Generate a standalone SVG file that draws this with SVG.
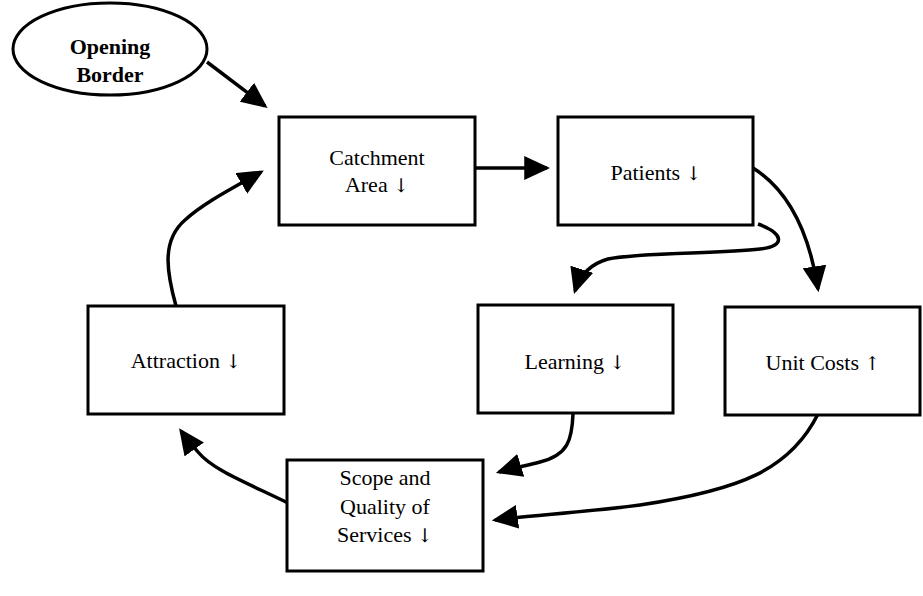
<svg xmlns="http://www.w3.org/2000/svg" width="923" height="596" viewBox="0 0 923 596">
<style>
.box{fill:#fff;stroke:#000;stroke-width:3}
.lbl{font-family:"Liberation Serif","Times New Roman",serif;font-size:22px;fill:#000;text-anchor:middle}
.bold{font-weight:bold}
.ar{font-family:"DejaVu Serif","DejaVu Sans",serif;font-size:19px;fill:#000}
.conn{fill:none;stroke:#000;stroke-width:3.5}
</style>
<defs>
<marker id="ah" markerUnits="userSpaceOnUse" markerWidth="26" markerHeight="24" viewBox="0 0 24 22" refX="21" refY="11" orient="auto">
<path d="M0,0 L24,11 L0,22 z" fill="#000"/>
</marker>
</defs>
<rect width="923" height="596" fill="#fff"/>
<g id="connectors">
<path class="conn" marker-end="url(#ah)" d="M207,62 L265,106"/>
<path class="conn" marker-end="url(#ah)" d="M476,168 L547,168"/>
<path class="conn" marker-end="url(#ah)" d="M176,306 C166,270 162,240 185,220 C205,202 235,187 261,172"/>
<path class="conn" marker-end="url(#ah)" d="M758,224 C785,234 785,246 760,249 C720,254 640,252 608,259 C590,264 580,275 575,291"/>
<path class="conn" marker-end="url(#ah)" d="M753,168 C785,188 808,225 818,289"/>
<path class="conn" marker-end="url(#ah)" d="M573,414 C572,440 568,455 540,462 C525,466 512,468 499,472"/>
<path class="conn" marker-end="url(#ah)" d="M818,414 C790,470 740,490 640,505 C580,513 530,515 495,520"/>
<path class="conn" marker-end="url(#ah)" d="M288,503 C245,482 213,470 198,452 C192,445 186,438 181,431"/>
</g>
<g id="opening-border">
<ellipse cx="110" cy="49" rx="97" ry="46" fill="#fff" stroke="#000" stroke-width="3"/>
<text class="lbl bold" x="110" y="54">Opening</text>
<text class="lbl bold" x="110" y="82">Border</text>
</g>
<g id="catchment">
<rect class="box" x="279" y="117" width="196" height="108"/>
<text class="lbl" x="377" y="165">Catchment</text>
<text class="lbl" x="377" y="192">Area <tspan class="ar">↓</tspan></text>
</g>
<g id="patients">
<rect class="box" x="558" y="117" width="195" height="108"/>
<text class="lbl" x="656" y="180">Patients <tspan class="ar">↓</tspan></text>
</g>
<g id="attraction">
<rect class="box" x="88" y="306" width="196" height="108"/>
<text class="lbl" x="186" y="368">Attraction <tspan class="ar">↓</tspan></text>
</g>
<g id="learning">
<rect class="box" x="478" y="305" width="195" height="108"/>
<text class="lbl" x="575" y="369">Learning <tspan class="ar">↓</tspan></text>
</g>
<g id="unit-costs">
<rect class="box" x="725" y="307" width="195" height="108"/>
<text class="lbl" x="823" y="370">Unit Costs <tspan class="ar">↑</tspan></text>
</g>
<g id="scope">
<rect class="box" x="287" y="460" width="196" height="111"/>
<text class="lbl" x="385" y="485">Scope and</text>
<text class="lbl" x="385" y="514">Quality of</text>
<text class="lbl" x="385" y="542">Services <tspan class="ar">↓</tspan></text>
</g>
</svg>
